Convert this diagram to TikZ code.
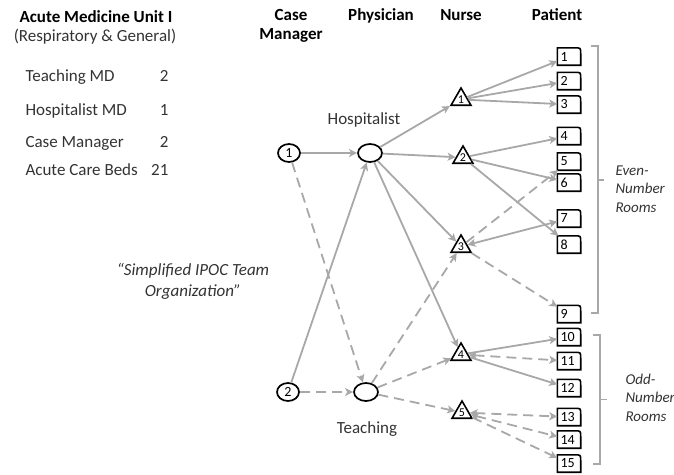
\documentclass[tikz,border=0pt]{standalone}
\usepackage{fontspec}
\setmainfont{Carlito}
\usetikzlibrary{arrows.meta,shapes.geometric}
\definecolor{lg}{HTML}{A8A8A8}
\definecolor{tx}{HTML}{333333}
\begin{document}
\begin{tikzpicture}[x=1pt,y=-1pt,
  >={Stealth[length=8pt,width=8pt,inset=2pt]},
  bigr/.style={font=\fontsize{17}{20}\selectfont},
  bigb/.style={font=\fontsize{17}{20}\selectfont\bfseries},
  bigi/.style={font=\fontsize{17}{20}\selectfont\itshape, text=tx},
  roomi/.style={font=\fontsize{15}{18}\selectfont\itshape, text=tx},
  conn/.style={draw=lg, line width=1.8pt, ->},
  dconn/.style={conn, dash pattern=on 10pt off 6pt},
  cmgr/.style={ellipse, draw, line width=1.7pt, minimum width=22pt, minimum height=18pt, inner sep=0pt, font=\fontsize{14}{14}\selectfont},
  physn/.style={ellipse, draw, line width=1.7pt, minimum width=24pt, minimum height=18pt, inner sep=0pt},
  nursen/.style={regular polygon, regular polygon sides=3, draw, line width=1.6pt, minimum size=23pt, inner sep=0pt, font=\fontsize{12}{12}\selectfont},
  patn/.style={rectangle, minimum width=23pt, minimum height=17pt, inner sep=0pt, font=\fontsize{14}{14}\selectfont},
  patbox/.style={line width=1.6pt},
  bracestyle/.style={draw=lg, line width=1.3pt}
]
\useasboundingbox (0,0) rectangle (674,474);

% left block
\node[bigb, anchor=base] (title) at (96,22) {Acute Medicine Unit I};
\node[bigr, text=tx, anchor=base] (sub) at (95,41) {(Respiratory \& General)};
\node[bigr, text=tx, anchor=base west] (r1) at (22,81) {Teaching MD};
\node[bigr, text=tx, anchor=base east] (v1) at (172,81) {2};
\node[bigr, text=tx, anchor=base west] (r2) at (22,115.5) {Hospitalist MD};
\node[bigr, text=tx, anchor=base east] (v2) at (172,115.5) {1};
\node[bigr, text=tx, anchor=base west] (r3) at (22,147) {Case Manager};
\node[bigr, text=tx, anchor=base east] (v3) at (172,147) {2};
\node[bigr, text=tx, anchor=base west] (r4) at (22,175) {Acute Care Beds};
\node[bigr, text=tx, anchor=base east] (v4) at (172,175) {21};

\node[bigi, anchor=base] (q1) at (193,275) {“Simplified IPOC Team};
\node[bigi, anchor=base] (q2) at (193,296) {Organization”};

% headers
\node[bigb, anchor=base] (hcase) at (291,20) {Case};
\node[bigb, anchor=base] (hman) at (291,39) {Manager};
\node[bigb, anchor=base] (hphys) at (381,20) {Physician};
\node[bigb, anchor=base] (hnur) at (461,20) {Nurse};
\node[bigb, anchor=base] (hpat) at (557,20) {Patient};

% case managers and physicians
\node[cmgr] (c1) at (289,153) {1};
\node[cmgr] (c2) at (288,392) {2};
\node[physn] (h) at (370,153) {};
\node[physn] (t) at (366,392) {};
\node[bigr, text=tx, anchor=base] (hl) at (364,124) {Hospitalist};
\node[bigr, text=tx, anchor=base] (tl) at (367,433) {Teaching};

% nurses
\node[nursen] (n1) at (461,99.5) {1};
\node[nursen] (n2) at (463,157.5) {2};
\node[nursen] (n3) at (461,246.5) {3};
\node[nursen] (n4) at (461,354.5) {4};
\node[nursen] (n5) at (462,412.5) {5};

% patients
\foreach \i/\y in {1/56.5,2/81,3/104.5,4/136,5/161.5,6/182.5,7/218.5,8/244.5,9/314,10/337,11/361,12/388,13/417,14/439.5,15/463.5}{
  \node[patn] (p\i) at (569,\y) {\makebox[17pt][l]{\i}};
  \draw[patbox] (p\i.south west) -- (p\i.north west) -- ([xshift=-6pt]p\i.north east)
     .. controls (p\i.north east) .. ([yshift=-6pt]p\i.north east) -- (p\i.south east) -- cycle;
}

% brackets
\draw[bracestyle] (591,46) -- (598,46) -- (598,313) -- (591,313);
\draw[bracestyle] (598,180) -- (604,180);
\draw[bracestyle] (593,335) -- (600,335) -- (600,464) -- (593,464);
\draw[bracestyle] (600,399.5) -- (607,399.5);
\node[roomi, anchor=base west] (e1) at (612,175) {Even-};
\node[roomi, anchor=base west] (e2) at (612,193.5) {Number};
\node[roomi, anchor=base west] (e3) at (612,212) {Rooms};
\node[roomi, anchor=base west] (o1) at (622,384) {Odd-};
\node[roomi, anchor=base west] (o2) at (622,402.5) {Number};
\node[roomi, anchor=base west] (o3) at (622,421) {Rooms};

% connectors
\draw[conn] (c1) -- (h);
\draw[dconn] (c1) -- (t);
\draw[conn] (c2) -- (h);
\draw[dconn] (c2) -- (t);
\draw[conn] (h) -- (n1);
\draw[conn] (h) -- (n2);
\draw[conn] (h) -- (n3);
\draw[conn] (h) -- (n4);
\draw[dconn] (t) -- (n3);
\draw[dconn] (t) -- (n4);
\draw[dconn] (t) -- (n5);
\draw[conn] (n1) -- (p1);
\draw[conn] (n1) -- (p2);
\draw[conn] (n1) -- (p3);
\draw[conn] (n2) -- (p4);
\draw[conn] (n2) -- (p6);
\draw[conn] (n2) -- (p8);
\draw[dconn] (n3) -- (p5);
\draw[conn, <->] (n3) -- (p7);
\draw[dconn] (n3) -- (p9);
\draw[conn] (n4) -- (p10);
\draw[dconn, <->] (n4) -- (p11);
\draw[conn] (n4) -- (p12);
\draw[dconn, <->] (n5) -- (p13);
\draw[dconn, <->] (n5) -- (p14);
\draw[dconn] (n5) -- (p15);
\end{tikzpicture}
\end{document}
